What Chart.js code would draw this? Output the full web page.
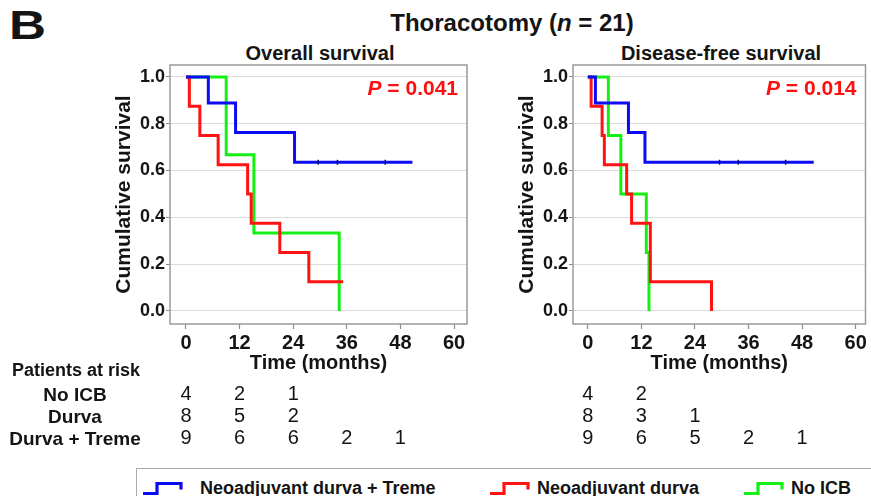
<!DOCTYPE html>
<html>
<head>
<meta charset="utf-8">
<script src="https://cdn.jsdelivr.net/npm/chart.js@4.4.1/dist/chart.umd.min.js"></script>
<style>
  html, body { margin: 0; padding: 0; background: #fff; width: 871px; height: 496px; overflow: hidden;
    font-family: "Liberation Sans", Arial, sans-serif; color: #141414; }
  .t { position: absolute; white-space: nowrap; font-weight: bold; line-height: 1; }
  .c { transform: translate(-50%, -50%); }
  .l { transform: translate(0, -50%); }
  canvas { position: absolute; }
  #legend { position: absolute; left: 136px; top: 468px; width: 740px; height: 40px;
    border: 1.5px solid #aaa; box-sizing: border-box; }
  .key { position: absolute; top: 19px; transform: translate(0, -50%); }
</style>
</head>
<body>

<div class="t" style="left:9px; top:5px; font-size:41px; transform:scaleX(1.25); transform-origin:left top;">B</div>
<div class="t c" style="left:512px; top:23px; font-size:24px;">Thoracotomy (<i>n</i> = 21)</div>
<div class="t c" style="left:320px; top:53px; font-size:20px;">Overall survival</div>
<div class="t c" style="left:721px; top:53px; font-size:20px;">Disease-free survival</div>

<canvas id="os" width="380" height="425" style="left:95px; top:30px;"></canvas>
<canvas id="dfs" width="373" height="425" style="left:498px; top:30px;"></canvas>

<div class="t l" style="left:12px; top:370px; font-size:18px;">Patients at risk</div>
<div id="riskRows"></div>

<div id="legend"></div>

<script>
// ---- axis ticks ----
const tickMonths = [0, 12, 24, 36, 48, 60];
const survTicks = [0, 0.2, 0.4, 0.6, 0.8, 1.0];

// ---- groups ----
const groupNames = ['Neoadjuvant durva + Treme', 'Neoadjuvant durva', 'No ICB'];
const groupColors = ['#0b0bf5', '#ff1212', '#14f014'];
const riskLabels = ['No ICB', 'Durva', 'Durva + Treme'];

// ---- Overall survival (months, cumulative survival after each step) ----
const osTremeTime = [0, 5.0, 11.1, 24.3, 50.7];
const osTremeSurv = [1.0, 0.889, 0.762, 0.635, 0.635];
const osTremeCensor = [29.6, 33.9, 44.6];
const osDurvaTime = [0, 0.75, 3.1, 7.2, 13.8, 14.6, 21.0, 27.5, 35.2];
const osDurvaSurv = [1.0, 0.875, 0.75, 0.625, 0.5, 0.375, 0.25, 0.125, 0.125];
const osNoIcbTime = [0, 9.0, 15.2, 34.3];
const osNoIcbSurv = [1.0, 0.667, 0.333, 0.0];
const osRiskNoIcb = [4, 2, 1];
const osRiskDurva = [8, 5, 2];
const osRiskTreme = [9, 6, 6, 2, 1];
const osP = '0.041';

// ---- Disease-free survival ----
const dfsTremeTime = [0, 1.7, 9.1, 12.8, 50.6];
const dfsTremeSurv = [1.0, 0.889, 0.762, 0.635, 0.635];
const dfsTremeCensor = [29.5, 33.7, 44.3];
const dfsDurvaTime = [0, 0.74, 3.2, 3.7, 8.7, 9.8, 14.0, 27.7];
const dfsDurvaSurv = [1.0, 0.875, 0.75, 0.625, 0.5, 0.375, 0.125, 0.0];
const dfsNoIcbTime = [0, 4.6, 7.4, 13.1, 13.7];
const dfsNoIcbSurv = [1.0, 0.75, 0.5, 0.25, 0.0];
const dfsRiskNoIcb = [4, 2];
const dfsRiskDurva = [8, 3, 1];
const dfsRiskTreme = [9, 6, 5, 2, 1];
const dfsP = '0.014';

const FONT = '"Liberation Sans", Arial, sans-serif';
const INK = '#141414';

function toPoints(times, surv) {
  return times.map((t, i) => ({ x: t, y: surv[i] }));
}
// survival level of a step curve at time t
function levelAt(times, surv, t) {
  let v = surv[0];
  for (let i = 0; i < times.length; i++) if (times[i] <= t) v = surv[i];
  return v;
}

function stepSet(label, color, times, surv) {
  return {
    label, data: toPoints(times, surv), borderColor: color, backgroundColor: color,
    borderWidth: 3, pointRadius: 0, stepped: 'before', fill: false, tension: 0,
    borderCapStyle: 'butt', borderJoinStyle: 'miter'
  };
}

// frame round the plotting area
const frame = {
  id: 'frame',
  beforeDatasetsDraw(chart) {
    const { ctx, chartArea: a } = chart;
    ctx.save();
    ctx.strokeStyle = '#9a9a9a';
    ctx.lineWidth = 1.5;
    ctx.strokeRect(a.left, a.top, a.right - a.left, a.bottom - a.top);
    ctx.restore();
  }
};

// log-rank P value in the upper right corner
const pLabel = {
  id: 'pLabel',
  afterDraw(chart, args, opts) {
    const { ctx, chartArea: a } = chart;
    ctx.save();
    ctx.fillStyle = '#ff1010';
    ctx.textBaseline = 'middle';
    const y = 59;
    const rest = ' = ' + opts.value;
    ctx.font = 'bold 21px ' + FONT;
    const wRest = ctx.measureText(rest).width;
    ctx.font = 'italic bold 21px ' + FONT;
    const wP = ctx.measureText('P').width;
    const x0 = a.right - 9 - wRest - wP;
    ctx.textAlign = 'left';
    ctx.fillText('P', x0, y);
    ctx.font = 'bold 21px ' + FONT;
    ctx.fillText(rest, x0 + wP, y);
    ctx.restore();
  }
};

// numbers at risk under the time axis
const riskTable = {
  id: 'riskTable',
  afterDraw(chart, args, opts) {
    const { ctx } = chart;
    const xs = chart.scales.x;
    const rowsY = [364, 386, 408];
    ctx.save();
    ctx.fillStyle = INK;
    ctx.font = '20px ' + FONT;
    ctx.textAlign = 'center';
    ctx.textBaseline = 'middle';
    opts.rows.forEach((row, r) => {
      row.forEach((n, i) => ctx.fillText(String(n), xs.getPixelForValue(tickMonths[i]), rowsY[r]));
    });
    ctx.restore();
  }
};

function makePanel(id, d) {
  const censor = d.censor.map(t => ({ x: t, y: levelAt(d.tremeTime, d.tremeSurv, t) }));
  return new Chart(document.getElementById(id), {
    type: 'line',
    data: {
      datasets: [
        {
          label: 'censored', data: censor, showLine: false, pointStyle: 'line', rotation: 90,
          pointRadius: 2.5, borderWidth: 1.5, borderColor: '#101070', backgroundColor: '#101070'
        },
        stepSet(groupNames[0], groupColors[0], d.tremeTime, d.tremeSurv),
        stepSet(groupNames[1], groupColors[1], d.durvaTime, d.durvaSurv),
        stepSet(groupNames[2], groupColors[2], d.noIcbTime, d.noIcbSurv)
      ]
    },
    options: {
      responsive: false, animation: false, devicePixelRatio: 1, events: [],
      layout: { padding: { top: 35, left: 0, right: d.padRight, bottom: 80 } },
      plugins: {
        legend: { display: false }, tooltip: { enabled: false },
        pLabel: { value: d.p },
        riskTable: { rows: d.risk }
      },
      scales: {
        x: {
          type: 'linear', min: d.xMin, max: d.xMax,
          afterBuildTicks: s => { s.ticks = tickMonths.map(v => ({ value: v })); },
          afterFit: s => { s.height = 51; },
          grid: { drawOnChartArea: false, drawTicks: true, tickLength: 5, tickColor: '#8a8a8a', tickWidth: 1.2 },
          border: { display: false },
          ticks: { color: INK, font: { family: FONT, size: 20, weight: 'bold' }, padding: 2, maxRotation: 0, autoSkip: false },
          title: { display: true, text: 'Time (months)', color: INK, font: { family: FONT, size: 20, weight: 'bold' }, padding: { top: 0, bottom: 0 } }
        },
        y: {
          type: 'linear', min: -0.056, max: 1.051,
          afterBuildTicks: s => { s.ticks = survTicks.map(v => ({ value: v })); },
          afterFit: s => { s.width = 75; },
          grid: { color: '#dcdcdc', lineWidth: 1, drawTicks: true, tickLength: 4, tickColor: '#8a8a8a' },
          border: { display: false },
          ticks: { color: INK, font: { family: FONT, size: 18, weight: 'bold' }, padding: 1, callback: v => v.toFixed(1) },
          title: { display: true, text: 'Cumulative survival', color: INK, font: { family: FONT, size: 21, weight: 'bold' }, padding: { top: 17, bottom: 0 } }
        }
      }
    },
    plugins: [frame, pLabel, riskTable]
  });
}

makePanel('os', {
  tremeTime: osTremeTime, tremeSurv: osTremeSurv, censor: osTremeCensor,
  durvaTime: osDurvaTime, durvaSurv: osDurvaSurv,
  noIcbTime: osNoIcbTime, noIcbSurv: osNoIcbSurv,
  risk: [osRiskNoIcb, osRiskDurva, osRiskTreme], p: osP,
  xMin: -3.58, xMax: 62.91, padRight: 8
});

makePanel('dfs', {
  tremeTime: dfsTremeTime, tremeSurv: dfsTremeSurv, censor: dfsTremeCensor,
  durvaTime: dfsDurvaTime, durvaSurv: dfsDurvaSurv,
  noIcbTime: dfsNoIcbTime, noIcbSurv: dfsNoIcbSurv,
  risk: [dfsRiskNoIcb, dfsRiskDurva, dfsRiskTreme], p: dfsP,
  xMin: -3.32, xMax: 62.2, padRight: 2
});

// row labels of the at-risk table
const rowTops = [394, 416, 438];
const riskRows = document.getElementById('riskRows');
riskLabels.forEach((name, i) => {
  const el = document.createElement('div');
  el.className = 't c';
  el.style.cssText = `left:75px; top:${rowTops[i]}px; font-size:19px;`;
  el.textContent = name;
  riskRows.appendChild(el);
});

// legend with step-shaped keys
const legend = document.getElementById('legend');
const keyLeft = [5, 352, 606];
groupNames.forEach((name, i) => {
  const key = document.createElement('div');
  key.className = 'key';
  key.style.left = keyLeft[i] + 'px';
  key.innerHTML =
    `<svg width="42" height="16" style="vertical-align:middle">` +
    `<path d="M1 13 H15 V3 H39 V9" fill="none" stroke="${groupColors[i]}" stroke-width="3.2"/></svg>` +
    `<span style="font-weight:bold; font-size:18px; margin-left:${i === 0 ? 16 : 6}px; vertical-align:middle;">${name}</span>`;
  legend.appendChild(key);
});
</script>
</body>
</html>
